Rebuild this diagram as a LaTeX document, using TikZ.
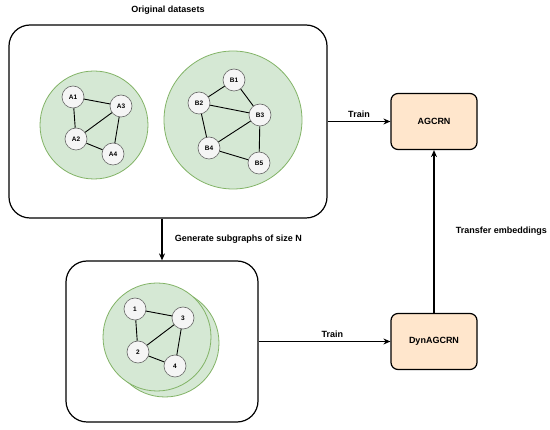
\documentclass[tikz,border=0pt]{standalone}
\usepackage{fontspec}
\setmainfont{Liberation Sans}
\usetikzlibrary{arrows.meta, positioning}
\definecolor{graphfill}{HTML}{D5E8D4}
\definecolor{graphline}{HTML}{82B366}
\definecolor{modelfill}{HTML}{FFE6CC}
\definecolor{vertfill}{HTML}{F5F5F5}
\definecolor{vertline}{HTML}{666666}

\begin{document}
\begin{tikzpicture}[x=1pt, y=-1pt, font=\fontsize{9}{11}\selectfont\bfseries,
    panel/.style={draw, rounded corners=21pt, line width=1.2pt},
    model/.style={draw, rounded corners=7pt, fill=modelfill, line width=1.2pt, minimum width=86pt, minimum height=56pt},
    graphbg/.style={circle, draw=graphline, fill=graphfill, line width=0.8pt, inner sep=0pt},
    vert/.style={circle, draw=vertline, fill=vertfill, line width=0.6pt, minimum size=22pt, inner sep=0pt, font=\fontsize{6.5}{7}\selectfont\bfseries},
    edge/.style={line width=0.9pt},
    flow/.style={-{Stealth[length=7pt, width=6pt]}, line width=1.1pt}]
        \useasboundingbox (0, 0) rectangle (550, 430);

        % Panels
        \node[panel, minimum width=318pt, minimum height=193pt] (orig) at (168, 121.5) {};
        \node[above=6pt of orig.north] (origtitle) {Original datasets};
        \node[panel, minimum width=192pt, minimum height=161pt] (sub) at (162, 341.5) {};

        % Models
        \node[model] (agcrn) at (434, 121.5) {AGCRN};
        \node[model] (dyn) at (434, 341.5) {DynAGCRN};

        % Dataset A
        \node[graphbg, minimum size=108pt] (bgA) at (94, 125) {};
        \node[vert] (A1) at (73, 97) {A1};
        \node[vert] (A3) at (121, 106) {A3};
        \node[vert] (A2) at (76, 139) {A2};
        \node[vert] (A4) at (113, 154) {A4};
        \draw[edge] (A1) -- (A3) (A1) -- (A2) (A2) -- (A3) (A3) -- (A4) (A2) -- (A4);

        % Dataset B
        \node[graphbg, minimum size=138pt] (bgB) at (233, 120) {};
        \node[vert] (B1) at (234, 80) {B1};
        \node[vert] (B2) at (199, 103) {B2};
        \node[vert] (B3) at (260, 115) {B3};
        \node[vert] (B4) at (209, 148) {B4};
        \node[vert] (B5) at (259, 163) {B5};
        \draw[edge] (B1) -- (B2) (B1) -- (B3) (B2) -- (B3) (B2) -- (B4)
            (B3) -- (B4) (B3) -- (B5) (B4) -- (B5);

        % Subgraphs of size N
        \node[graphbg, minimum size=108pt] (bgS2) at (165, 343) {};
        \node[graphbg, minimum size=108pt] (bgS1) at (157, 337) {};
        \node[vert] (S1) at (135, 309) {1};
        \node[vert] (S3) at (183, 318) {3};
        \node[vert] (S2) at (138, 352) {2};
        \node[vert] (S4) at (175, 366) {4};
        \draw[edge] (S1) -- (S3) (S1) -- (S2) (S2) -- (S3) (S3) -- (S4) (S2) -- (S4);

        % Flow
        \draw[flow] (orig.east |- agcrn.west) -- node[above] {Train} (agcrn.west);
        \draw[flow] (orig.south -| sub.north) -- node[right, xshift=9pt] {Generate subgraphs of size N} (sub.north);
        \draw[flow] (sub.east |- dyn.west) -- node[above, pos=0.56] {Train} (dyn.west);
        \draw[flow] (dyn.north) -- node[right, xshift=18pt] {Transfer embeddings} (agcrn.south);
    \end{tikzpicture}
\end{document}
